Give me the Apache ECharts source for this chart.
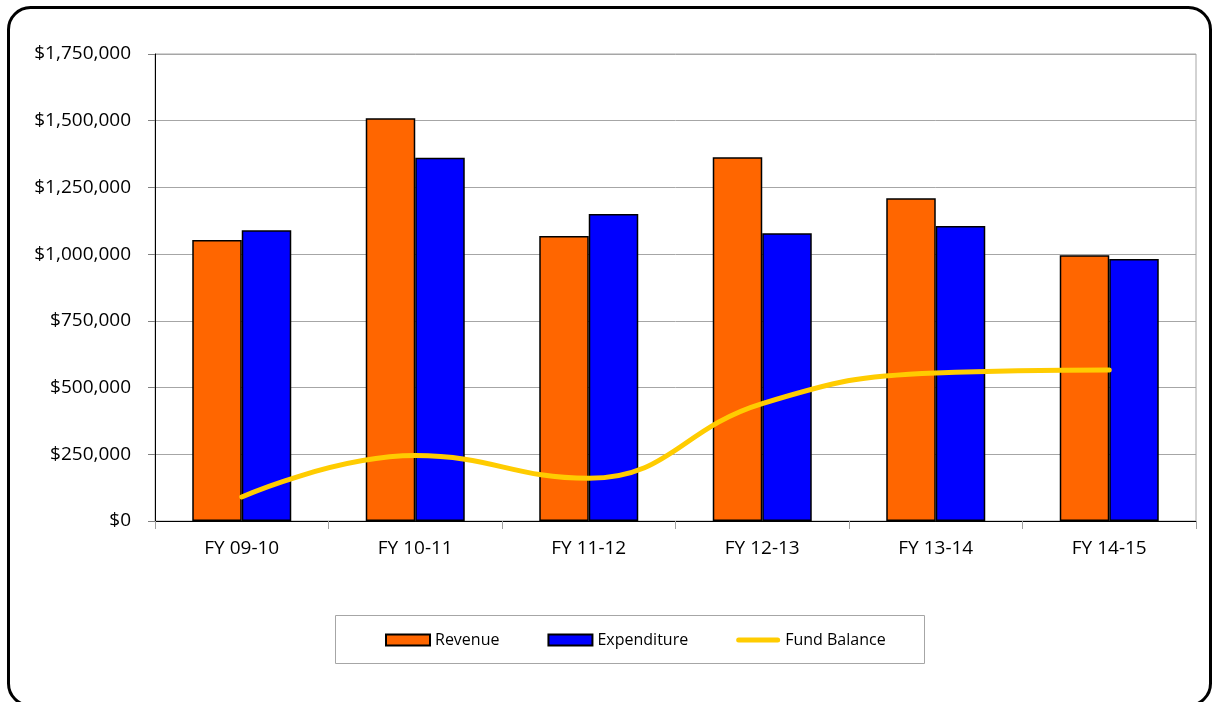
<!DOCTYPE html>
<html>
<head>
<meta charset="utf-8">
<title>Revenue, Expenditure and Fund Balance</title>
<script src="https://cdn.jsdelivr.net/npm/echarts@6/dist/echarts.min.js"></script>
<style>
  html, body { margin: 0; padding: 0; background: #ffffff; }
  #chart { width: 1212px; height: 702px; }
</style>
</head>
<body>
<div id="chart"></div>
<script>
// Fiscal years and amounts (USD)
var categories = ['FY 09-10', 'FY 10-11', 'FY 11-12', 'FY 12-13', 'FY 13-14', 'FY 14-15'];
var revenue = [1053000, 1509000, 1068000, 1363000, 1209000, 996000];
var expenditure = [1090000, 1361000, 1150000, 1078000, 1105000, 982000];
var fundBalance = [90000, 245000, 160000, 440000, 555000, 566000];

var FONT = '"Open Sans", "Noto Sans", sans-serif';

// thick rounded stroke used as the legend key of the balance line
var LINE_KEY = 'path://M2.5,0 L41.5,0 A2.5,2.5 0 0 1 41.5,5 L2.5,5 A2.5,2.5 0 0 1 2.5,0 Z';

function money(v) {
  return '$' + String(v).replace(/\B(?=(\d{3})+(?!\d))/g, ',');
}

var chart = echarts.init(document.getElementById('chart'), null, { renderer: 'canvas' });

chart.setOption({
  animation: false,
  backgroundColor: '#ffffff',
  textStyle: { fontFamily: FONT },
  graphic: [
    {
      type: 'rect',
      z: 0,
      shape: { x: 8.5, y: 7.5, width: 1202, height: 698, r: 22 },
      style: { fill: 'none', stroke: '#000000', lineWidth: 3 }
    },
    {
      type: 'rect',
      z: 0,
      shape: { x: 335.5, y: 615.5, width: 589, height: 48 },
      style: { fill: 'none', stroke: '#a6a6a6', lineWidth: 1 }
    }
  ],
  grid: {
    left: 155,
    right: 16,
    top: 54,
    bottom: 181,
    show: true,
    borderColor: '#a6a6a6',
    borderWidth: 1,
    backgroundColor: 'transparent'
  },
  legend: {
    top: 627,
    left: 380,
    itemGap: 48,
    itemWidth: 44,
    itemHeight: 11,
    textStyle: { fontFamily: FONT, fontSize: 16, color: '#000000' },
    data: [
      { name: 'Revenue', icon: 'rect' },
      { name: 'Expenditure', icon: 'rect' },
      {
        name: 'Fund Balance',
        icon: LINE_KEY,
        itemStyle: { color: '#ffcc00', borderWidth: 0 }
      }
    ]
  },
  xAxis: {
    type: 'category',
    data: categories,
    boundaryGap: true,
    axisLine: { show: true, lineStyle: { color: '#000000', width: 1 } },
    axisTick: { show: true, length: 8, lineStyle: { color: '#a0a0a0' } },
    axisLabel: { fontFamily: FONT, fontSize: 19, color: '#000000', margin: 18 },
    splitLine: { show: false }
  },
  yAxis: {
    type: 'value',
    min: 0,
    max: 1750000,
    interval: 250000,
    axisLine: { show: true, lineStyle: { color: '#000000', width: 1 } },
    axisTick: { show: true, length: 7, lineStyle: { color: '#808080' } },
    axisLabel: {
      fontFamily: FONT,
      fontSize: 19,
      color: '#000000',
      margin: 24,
      formatter: money
    },
    splitLine: { show: true, lineStyle: { color: '#a6a6a6', width: 1 } }
  },
  series: [
    {
      name: 'Revenue',
      type: 'bar',
      data: revenue,
      barWidth: 49.5,
      barGap: '0%',
      itemStyle: { color: '#ff6600', borderColor: '#000000', borderWidth: 1.5 }
    },
    {
      name: 'Expenditure',
      type: 'bar',
      data: expenditure,
      barWidth: 49.5,
      barGap: '0%',
      itemStyle: { color: '#0000ff', borderColor: '#000000', borderWidth: 1.5 }
    },
    {
      name: 'Fund Balance',
      type: 'line',
      data: fundBalance,
      smooth: 0.45,
      symbol: 'none',
      showSymbol: false,
      z: 5,
      itemStyle: { color: '#ffcc00' },
      lineStyle: { color: '#ffcc00', width: 5, cap: 'round', join: 'round' }
    }
  ]
});
</script>
</body>
</html>
